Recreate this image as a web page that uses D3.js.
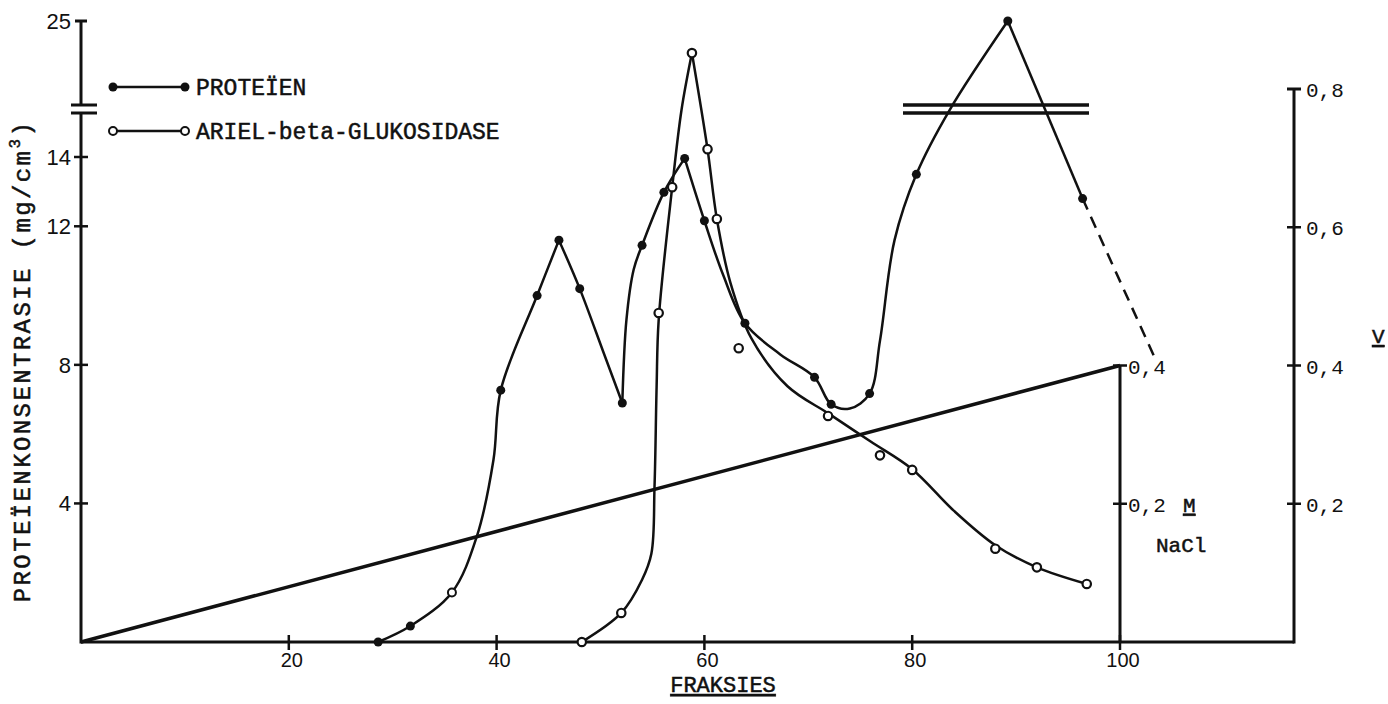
<!DOCTYPE html>
<html>
<head>
<meta charset="utf-8">
<script src="https://cdn.jsdelivr.net/npm/d3@7"></script>
<style>
  body { margin: 0; background: #fff; }
  svg { display: block; }
  .mono { font-family: "Liberation Mono", "DejaVu Sans Mono", monospace; }
  .type { font-family: "Liberation Mono", "DejaVu Sans Mono", monospace; stroke: #111; stroke-width: 0.5px; }
  .sans { font-family: "Liberation Sans", Arial, sans-serif; }
</style>
</head>
<body>
<svg id="chart" width="1388" height="704"></svg>
<script>
// ---- axis ticks ----
const fractionTicks = [20, 40, 60, 80, 100];
const proteinTicks = [4, 8, 12, 14];
const proteinTop = 25;
const vTicks = [0.2, 0.4, 0.6];
const vTop = 0.8;
const naclTicks = [0.2, 0.4];
const naclTickLabels = ["0,2", "0,4"];

// ---- protein (filled dots), mg/cm3 ----
const proteinFraction = [28.6, 31.7, 35.7, 40.4, 43.9, 46.0, 48.0, 52.1, 54.0, 56.1, 58.1, 60.0, 63.9, 70.6, 72.2, 75.9, 80.4, 89.2, 96.4];
const proteinValue    = [0.0, 0.46, 1.43, 7.27, 10.0, 11.6, 10.2, 6.9, 11.45, 12.98, 13.96, 12.16, 9.2, 7.64, 6.86, 7.17, 13.5, 25.0, 12.8];
const proteinOpen     = [35.7];

// hand-drawn protein trace, split at its sharp corners
const proteinTrace = [
  [[28.6, 0.0], [31.7, 0.46], [35.7, 1.43], [38.1, 3.05], [39.7, 5.26], [40.4, 7.27], [43.9, 10.0], [46.0, 11.6]],
  [[46.0, 11.6], [48.0, 10.2], [50.3, 8.35], [52.1, 6.9]],
  [[52.1, 6.9], [52.5, 9.31], [53.2, 10.76], [54.0, 11.45], [56.1, 12.98], [58.1, 13.96]],
  [[58.1, 13.96], [60.0, 12.16], [61.8, 10.6], [63.9, 9.2], [67.3, 8.3], [70.6, 7.64], [72.2, 6.86], [74.0, 6.74], [75.9, 7.17], [76.9, 8.7], [78.3, 11.6], [80.4, 13.5], [83.6, 17.8], [89.2, 25.0]],
  [[89.2, 25.0], [96.4, 12.8]]
];
// extrapolated continuation (dashed)
const proteinDashed = [[96.4, 12.8], [103.5, 8.1]];

// ---- ARIEL-beta-glucosidase activity (open dots), V ----
const glucFraction = [48.2, 52.0, 55.6, 56.9, 58.8, 60.3, 61.2, 63.3, 71.9, 76.9, 80.0, 88.0, 92.0, 96.8];
const glucValue    = [0.0, 0.042, 0.476, 0.658, 0.852, 0.713, 0.612, 0.425, 0.327, 0.27, 0.249, 0.135, 0.108, 0.084];

const glucTrace = [
  [[48.2, 0.0], [52.0, 0.042], [54.0, 0.09], [54.9, 0.128], [55.2, 0.225], [55.4, 0.369], [55.6, 0.466], [56.9, 0.658], [57.8, 0.77], [58.8, 0.852]],
  [[58.8, 0.852], [60.3, 0.713], [61.2, 0.612], [62.5, 0.52], [64.5, 0.44], [68.0, 0.37], [72.0, 0.33], [76.0, 0.29], [80.0, 0.25], [84.0, 0.19], [88.0, 0.14], [92.0, 0.108], [96.8, 0.084]]
];

// ---- NaCl gradient, M ----
const naclFraction = [0, 100];
const naclMolar = [0, 0.4];

// ---- scales ----
const x = d3.scaleLinear().domain([0, 100]).range([81, 1120]);
const yP = d3.scaleLinear().domain([0, 14, 25]).range([642, 157, 21]);
const yV = d3.scaleLinear().domain([0, 0.8]).range([642, 89]);
const yM = yV.copy();

const svg = d3.select("#chart");
const ink = "#111";

// ---- axes ----
const axes = svg.append("g").attr("stroke", ink).attr("fill", "none");
const x0 = x(0), xEnd = 1294, yBase = yP(0);
const breakLow = 113, breakHigh = 105;

// bottom axis
axes.append("line").attr("x1", x0).attr("x2", xEnd).attr("y1", yBase).attr("y2", yBase).attr("stroke-width", 3);
axes.selectAll(".xt").data(fractionTicks).join("line")
  .attr("x1", d => x(d)).attr("x2", d => x(d)).attr("y1", yBase - 7).attr("y2", yBase + 8).attr("stroke-width", 2.5);

// left axis with a break
axes.append("line").attr("x1", x0).attr("x2", x0).attr("y1", yBase + 1.5).attr("y2", breakLow).attr("stroke-width", 3);
axes.append("line").attr("x1", x0).attr("x2", x0).attr("y1", breakHigh).attr("y2", yP(proteinTop)).attr("stroke-width", 3);
[breakHigh, breakLow].forEach(yb => axes.append("line").attr("x1", x0 - 10).attr("x2", x0 + 16).attr("y1", yb).attr("y2", yb).attr("stroke-width", 3));
axes.selectAll(".yt").data(proteinTicks).join("line")
  .attr("x1", x0 - 7).attr("x2", x0 + 7).attr("y1", d => yP(d)).attr("y2", d => yP(d)).attr("stroke-width", 2.5);
axes.append("line").attr("x1", x0 - 6).attr("x2", x0 + 6).attr("y1", yP(proteinTop)).attr("y2", yP(proteinTop)).attr("stroke-width", 3);

// right V axis
axes.append("line").attr("x1", xEnd).attr("x2", xEnd).attr("y1", yBase + 1.5).attr("y2", yV(vTop)).attr("stroke-width", 3);
axes.selectAll(".vt").data(vTicks).join("line")
  .attr("x1", xEnd - 7).attr("x2", xEnd + 7).attr("y1", d => yV(d)).attr("y2", d => yV(d)).attr("stroke-width", 2.5);
axes.append("line").attr("x1", xEnd - 7).attr("x2", xEnd + 7).attr("y1", yV(vTop)).attr("y2", yV(vTop)).attr("stroke-width", 3);

// NaCl axis at fraction 100
axes.append("line").attr("x1", x(100)).attr("x2", x(100)).attr("y1", yBase).attr("y2", yM(0.4)).attr("stroke-width", 3);
axes.selectAll(".mt").data(naclTicks).join("line")
  .attr("x1", x(100) - 7).attr("x2", x(100) + 7).attr("y1", d => yM(d)).attr("y2", d => yM(d)).attr("stroke-width", 2.5);

// ---- tick labels ----
const labels = svg.append("g").attr("fill", ink);
labels.selectAll(".xl").data(fractionTicks).join("text").attr("class", "sans")
  .attr("x", d => x(d) + 3).attr("y", 667).attr("text-anchor", "middle").attr("font-size", 20).text(d => d);
labels.selectAll(".yl").data(proteinTicks.concat([proteinTop])).join("text").attr("class", "sans")
  .attr("x", x0 - 10).attr("y", d => yP(d) + 8).attr("text-anchor", "end").attr("font-size", 22).text(d => d);
labels.selectAll(".vl").data(vTicks.concat([vTop])).join("text").attr("class", "mono")
  .attr("x", xEnd + 12).attr("y", d => yV(d) + 8).attr("font-size", 21)
  .text(d => String(d).replace(".", ","));
labels.selectAll(".ml").data(naclTicks).join("text").attr("class", "mono")
  .attr("x", x(100) + 8).attr("y", d => yM(d) + 8).attr("font-size", 21)
  .text((d, i) => naclTickLabels[i]);

// molarity unit and axis titles
labels.append("text").attr("class", "type").attr("x", 1183).attr("y", yM(0.2) + 8).attr("font-size", 21)
  .attr("text-decoration", "underline").text("M");
labels.append("text").attr("class", "type").attr("x", 1156).attr("y", 552).attr("font-size", 21).text("NaCl");
labels.append("text").attr("class", "type").attr("x", 1372).attr("y", 343).attr("font-size", 21)
  .attr("text-decoration", "underline").text("V");
labels.append("text").attr("class", "type").attr("x", 723).attr("y", 692).attr("text-anchor", "middle")
  .attr("font-size", 22).attr("text-decoration", "underline").text("FRAKSIES");

const yTitle = labels.append("text").attr("class", "type").attr("font-size", 24)
  .attr("letter-spacing", 2.4)
  .attr("transform", "translate(30,361) rotate(-90)").attr("text-anchor", "middle");
yTitle.append("tspan").text("PROTEÏENKONSENTRASIE (mg/cm");
yTitle.append("tspan").attr("font-size", 16).attr("dy", -10).text("3");
yTitle.append("tspan").attr("dy", 10).text(")");

// ---- NaCl gradient ----
svg.append("line")
  .attr("x1", x(naclFraction[0])).attr("y1", yM(naclMolar[0]))
  .attr("x2", x(naclFraction[1])).attr("y2", yM(naclMolar[1]))
  .attr("stroke", ink).attr("stroke-width", 3.5);

// ---- traces ----
const lineP = d3.line().x(d => x(d[0])).y(d => yP(d[1])).curve(d3.curveCatmullRom.alpha(0.5));
const lineV = d3.line().x(d => x(d[0])).y(d => yV(d[1])).curve(d3.curveCatmullRom.alpha(0.5));

svg.append("g").selectAll("path").data(proteinTrace).join("path")
  .attr("d", lineP).attr("fill", "none").attr("stroke", ink).attr("stroke-width", 2.5);
svg.append("path").attr("d", d3.line().x(d => x(d[0])).y(d => yP(d[1]))(proteinDashed))
  .attr("fill", "none").attr("stroke", ink).attr("stroke-width", 2.5).attr("stroke-dasharray", "12,8");
svg.append("g").selectAll("path").data(glucTrace).join("path")
  .attr("d", lineV).attr("fill", "none").attr("stroke", ink).attr("stroke-width", 2.5);

// break marks across the protein peak
[breakHigh, breakLow].forEach(yb => svg.append("line").attr("x1", 903).attr("x2", 1089)
  .attr("y1", yb).attr("y2", yb).attr("stroke", ink).attr("stroke-width", 3.5));

// ---- markers ----
svg.append("g").selectAll("circle").data(proteinFraction.map((f, i) => [f, proteinValue[i]])).join("circle")
  .attr("cx", d => x(d[0])).attr("cy", d => yP(d[1])).attr("r", d => proteinOpen.includes(d[0]) ? 4 : 4.5)
  .attr("fill", d => proteinOpen.includes(d[0]) ? "#fff" : ink)
  .attr("stroke", ink).attr("stroke-width", d => proteinOpen.includes(d[0]) ? 2 : 0);
svg.append("g").selectAll("circle").data(glucFraction.map((f, i) => [f, glucValue[i]])).join("circle")
  .attr("cx", d => x(d[0])).attr("cy", d => yV(d[1])).attr("r", 4.2)
  .attr("fill", "#fff").attr("stroke", ink).attr("stroke-width", 2.2);

// ---- legend ----
const legend = svg.append("g");
const legendItems = [
  { label: "PROTEÏEN", filled: true, y: 87 },
  { label: "ARIEL-beta-GLUKOSIDASE", filled: false, y: 131 }
];
legendItems.forEach(it => {
  legend.append("line").attr("x1", 113).attr("x2", 185).attr("y1", it.y).attr("y2", it.y)
    .attr("stroke", ink).attr("stroke-width", 2.5);
  [113, 185].forEach(cx => legend.append("circle").attr("cx", cx).attr("cy", it.y)
    .attr("r", it.filled ? 4.5 : 4).attr("fill", it.filled ? ink : "#fff")
    .attr("stroke", ink).attr("stroke-width", it.filled ? 0 : 2));
  legend.append("text").attr("class", "type").attr("x", 196).attr("y", it.y + 8)
    .attr("font-size", 23).attr("fill", ink).text(it.label);
});
</script>
</body>
</html>
